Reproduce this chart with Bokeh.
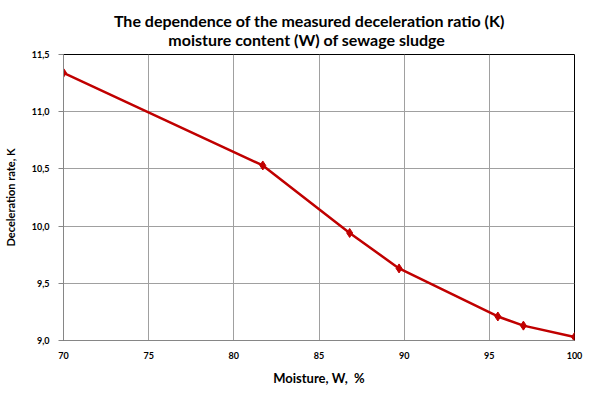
from bokeh.plotting import figure
from bokeh.models import FixedTicker, Title
from bokeh.embed import file_html
from bokeh.resources import INLINE

moisture = [70.0, 81.7, 86.8, 89.7, 95.5, 97.0, 100.0]
decel = [11.34, 10.53, 9.94, 9.63, 9.21, 9.13, 9.03]

x_ticks = [70, 75, 80, 85, 90, 95, 100]
x_labels = ["70", "75", "80", "85", "90", "95", "100"]
y_ticks = [9.0, 9.5, 10.0, 10.5, 11.0, 11.5]
y_labels = ["9,0", "9,5", "10,0", "10,5", "11,0", "11,5"]

title_lines = ["The dependence of the measured deceleration ratio (K)",
               "moisture content (W) of sewage sludge"]
x_title = "Moisture, W, \u00a0%"
y_title = "Deceleration rate, K"

FONT = "Lato"
RED = "#C00000"
NB = "\u00a0"

p = figure(width=592, height=388, output_backend="svg", toolbar_location=None,
           x_range=(70, 100), y_range=(9.0, 11.5),
           min_border_left=63, min_border_right=18, min_border_top=54, min_border_bottom=47)

# Title lines visually centred (the multi-line title box left-aligns its lines)
title_text = title_lines[0] + NB * 5 + "\n" + NB * 14 + title_lines[1]
p.add_layout(Title(text=title_text, align="center", vertical_align="middle", text_font=FONT,
                   text_font_size="16px", text_font_style="bold", text_color="#000000",
                   text_line_height=1.0, standoff=9), "above")

p.line(moisture, decel, line_color=RED, line_width=2.5)
p.scatter(moisture, decel, marker="diamond", size=9, fill_color=RED, line_color=RED)

p.xaxis.ticker = FixedTicker(ticks=x_ticks)
p.xaxis.major_label_overrides = {t: l for t, l in zip(x_ticks, x_labels)}
p.yaxis.ticker = FixedTicker(ticks=y_ticks)
p.yaxis.major_label_overrides = {t: l for t, l in zip(y_ticks, y_labels)}

p.yaxis.axis_label = y_title
p.xaxis.axis_label = x_title

for ax in (p.xaxis[0], p.yaxis[0]):
    ax.axis_line_color = "#868686"
    ax.axis_line_width = 1
    ax.major_tick_line_color = "#868686"
    ax.minor_tick_line_color = None
    ax.major_tick_in = 0
    ax.major_label_text_font = FONT
    ax.major_label_text_font_size = "9px"
    ax.major_label_text_font_style = "bold"
    ax.major_label_text_color = "#000000"
    ax.axis_label_text_font = FONT
    ax.axis_label_text_font_style = "bold"
    ax.axis_label_text_color = "#000000"

p.xaxis.major_tick_out = 0
p.xaxis.major_label_standoff = 11
p.xaxis.axis_label_standoff = 8
p.xaxis.axis_label_text_font_size = "13px"
p.xaxis.axis_label_text_line_height = 1.0
p.yaxis.major_tick_out = 5
p.yaxis.major_label_standoff = 9
p.yaxis.axis_label_standoff = 12
p.yaxis.axis_label_text_font_size = "11px"

p.xgrid.ticker = FixedTicker(ticks=x_ticks)
p.ygrid.ticker = FixedTicker(ticks=y_ticks)
p.grid.grid_line_color = "#a0a0a0"
p.grid.grid_line_width = 1

p.outline_line_color = "#000000"
p.outline_line_width = 1
p.background_fill_color = "white"
p.border_fill_color = "white"

open("out.html", "w").write(file_html(p, INLINE))
